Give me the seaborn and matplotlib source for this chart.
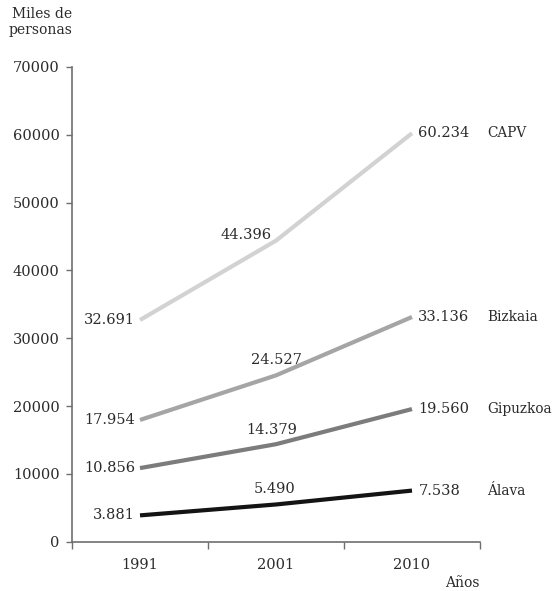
import matplotlib
matplotlib.use("Agg")
import matplotlib.pyplot as plt
import seaborn as sns
import pandas as pd

# Población (miles de personas) por territorio
years = ["1991", "2001", "2010"]
series = ["CAPV", "Bizkaia", "Gipuzkoa", "Álava"]
capv = [32691, 44396, 60234]
bizkaia = [17954, 24527, 33136]
gipuzkoa = [10856, 14379, 19560]
alava = [3881, 5490, 7538]
value_labels = {
    "CAPV": ["32.691", "44.396", "60.234"],
    "Bizkaia": ["17.954", "24.527", "33.136"],
    "Gipuzkoa": ["10.856", "14.379", "19.560"],
    "Álava": ["3.881", "5.490", "7.538"],
}
yticks = [0, 10000, 20000, 30000, 40000, 50000, 60000, 70000]

colors = {"CAPV": "#d2d2d2", "Bizkaia": "#a5a5a5", "Gipuzkoa": "#7c7c7c", "Álava": "#141414"}
text_color = "#2b2b2b"
axis_color = "#6e6e6e"

sns.set_style("white")
plt.rcParams["font.family"] = ["DejaVu Serif"]
plt.rcParams["font.size"] = 10.5

values = {"CAPV": capv, "Bizkaia": bizkaia, "Gipuzkoa": gipuzkoa, "Álava": alava}
df = pd.DataFrame(
    [(s, y, v) for s in series for y, v in zip(years, values[s])],
    columns=["serie", "año", "valor"],
)

fig = plt.figure(figsize=(5.54, 5.91), dpi=100)
ax = fig.add_axes([72 / 554, 1 - 541.7 / 591, 408 / 554, (541.7 - 67) / 591])

sns.lineplot(
    data=df, x="año", y="valor", hue="serie", palette=colors,
    hue_order=series, sort=False, linewidth=3.0, legend=False, ax=ax,
)
for line in ax.lines:
    line.set_solid_joinstyle("round")
    line.set_solid_capstyle("butt")

ax.set_xlim(-0.5, 2.5)
ax.set_ylim(0, 70000)
ax.set_xlabel("")
ax.set_ylabel("")

# Category boundaries as major ticks, year names on minor ticks
ax.set_xticks([-0.5, 0.5, 1.5, 2.5])
ax.set_xticklabels([])
ax.set_xticks([0, 1, 2], minor=True)
ax.set_xticklabels(years, minor=True)
ax.tick_params(axis="x", which="major", direction="out", length=5, width=1, color=axis_color, bottom=True)
ax.tick_params(axis="x", which="minor", length=0, pad=11.5, labelcolor=text_color, labelsize=10.5)

ax.set_yticks(yticks)
ax.set_yticklabels([str(t) for t in yticks])
ax.tick_params(axis="y", direction="out", length=4, width=1, color=axis_color, left=True,
               pad=5, labelcolor=text_color, labelsize=10.5)

for side in ["top", "right"]:
    ax.spines[side].set_visible(False)
for side in ["left", "bottom"]:
    ax.spines[side].set_color(axis_color)
    ax.spines[side].set_linewidth(1.2)

# Value labels
mid_offsets = {"CAPV": (-3, 4, "right"), "Bizkaia": (0, 11, "center"),
               "Gipuzkoa": (-3, 10.5, "center"), "Álava": (-1, 11, "center")}
for s in series:
    vals = values[s]
    labs = value_labels[s]
    ax.annotate(labs[0], (0, vals[0]), xytext=(-3.5, 0), textcoords="offset points",
                ha="right", va="center", color=text_color, fontsize=10.5)
    dx, dy, ha = mid_offsets[s]
    ax.annotate(labs[1], (1, vals[1]), xytext=(dx, dy), textcoords="offset points",
                ha=ha, va="center", color=text_color, fontsize=10.5)
    ax.annotate(labs[2], (2, vals[2]), xytext=(4.5, 0), textcoords="offset points",
                ha="left", va="center", color=text_color, fontsize=10.5)
    ax.annotate(s, (2, vals[2]), xytext=(54, 0), textcoords="offset points",
                ha="left", va="center", color=text_color, fontsize=9.8)

fig.text(72 / 554, 1 - 7 / 591, "Miles de\npersonas", ha="right", va="top",
         color=text_color, fontsize=10, linespacing=1.15)
fig.text(480 / 554, 1 - 583 / 591, "Años", ha="right", va="center",
         color=text_color, fontsize=10)

fig.savefig("out.png", dpi=100)
